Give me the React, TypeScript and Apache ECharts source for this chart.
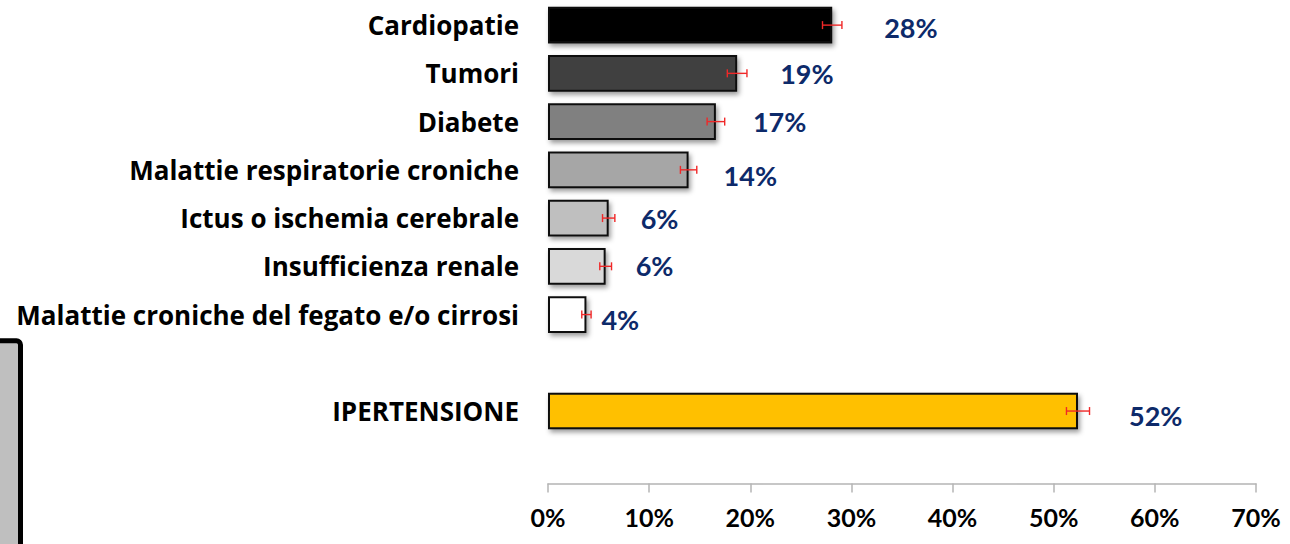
import React, { useEffect, useRef } from "react";
import * as echarts from "echarts";

const categories = [
  "Cardiopatie",
  "Tumori",
  "Diabete",
  "Malattie respiratorie croniche",
  "Ictus o ischemia cerebrale",
  "Insufficienza renale",
  "Malattie croniche del fegato e/o cirrosi",
  "",
  "IPERTENSIONE",
  "",
];
const values: (number | null)[] = [28.1, 18.7, 16.6, 13.9, 6.0, 5.7, 3.8, null, 52.4, null];
const errors: (number | null)[] = [0.96, 0.97, 0.87, 0.81, 0.61, 0.58, 0.46, null, 1.14, null];
const xMin = 0;
const xMax = 70;
const xInterval = 10;

// styles (kept apart from data)
const barColors = ["#000000", "#404040", "#808080", "#a6a6a6", "#bfbfbf", "#d9d9d9", "#ffffff", "#ffffff", "#ffc000", "#ffffff"];
const labelOffsets: number[][] = [[52, 2], [43, 0], [37, 0], [35, 6], [32, 0], [30, -1], [15, 4.5], [0, 0], [51, 4], [0, 0]];

const NUM_FONT = "Lato";
const CAT_FONT = "'Open Sans'";

export default function App() {
  const ref = useRef<HTMLDivElement>(null);
  useEffect(() => {
    if (!ref.current) return;
    const chart = echarts.init(ref.current, undefined, { renderer: "svg" });
    const barData = values.map((v, i) =>
      v == null
        ? null
        : {
            value: v,
            itemStyle: { color: barColors[i] },
            label: { offset: labelOffsets[i] },
          }
    );
    const errData: number[][] = [];
    values.forEach((v, i) => {
      if (v != null && errors[i] != null) errData.push([i, v, errors[i] as number]);
    });
    chart.setOption({
      animation: false,
      grid: { left: 548, right: 34, top: 1, bottom: 60.6, containLabel: false },
      xAxis: {
        type: "value",
        min: xMin,
        max: xMax,
        interval: xInterval,
        axisLine: { show: true, lineStyle: { color: "#b4b4b4", width: 1.5 } },
        axisTick: { show: true, length: 9, lineStyle: { color: "#b4b4b4", width: 1.5 } },
        splitLine: { show: false },
        axisLabel: {
          formatter: "{value}%",
          fontFamily: NUM_FONT,
          fontWeight: "bold",
          fontSize: 25,
          color: "#000",
          margin: 21,
        },
      },
      yAxis: {
        type: "category",
        inverse: true,
        data: categories,
        axisLine: { show: false },
        axisTick: { show: false },
        axisLabel: {
          fontFamily: CAT_FONT,
          fontWeight: "bold",
          fontSize: 26,
          color: "#000",
          margin: 29,
        },
      },
      series: [
        {
          type: "bar",
          barWidth: "76%",
          data: barData,
          itemStyle: {
            borderColor: "#111",
            borderWidth: 2,
            shadowBlur: 5,
            shadowOffsetX: 2,
            shadowOffsetY: 3,
            shadowColor: "rgba(0,0,0,0.4)",
          },
          label: {
            show: true,
            position: "right",
            distance: 0,
            formatter: (p: any) => Math.round(p.value) + "%",
            fontFamily: NUM_FONT,
            fontWeight: "bold",
            fontSize: 27,
            color: "#0d2a6a",
          },
          z: 2,
        },
        {
          type: "custom",
          z: 5,
          encode: { x: 1, y: 0 },
          data: errData,
          renderItem: (params: any, api: any) => {
            const idx = api.value(0);
            const v = api.value(1);
            const e = api.value(2);
            const p1 = api.coord([v - e, idx]);
            const p2 = api.coord([v + e, idx]);
            const h = 4;
            const st = { stroke: "#f02828", lineWidth: 1.4 };
            return {
              type: "group",
              children: [
                { type: "line", shape: { x1: p1[0], y1: p1[1], x2: p2[0], y2: p2[1] }, style: st },
                { type: "line", shape: { x1: p1[0], y1: p1[1] - h, x2: p1[0], y2: p1[1] + h }, style: st },
                { type: "line", shape: { x1: p2[0], y1: p2[1] - h, x2: p2[0], y2: p2[1] + h }, style: st },
              ],
            };
          },
        },
      ],
      graphic: [
        {
          type: "rect",
          shape: { x: -10, y: 340.8, width: 30.5, height: 260, r: 4 },
          style: { fill: "#bfbfbf", stroke: "#000", lineWidth: 5 },
          z: 10,
        },
      ],
    });
    return () => chart.dispose();
  }, []);
  return (
    <div
      ref={ref}
      style={{ position: "fixed", left: 0, top: 0, width: 1290, height: 544, background: "#fff" }}
    />
  );
}
